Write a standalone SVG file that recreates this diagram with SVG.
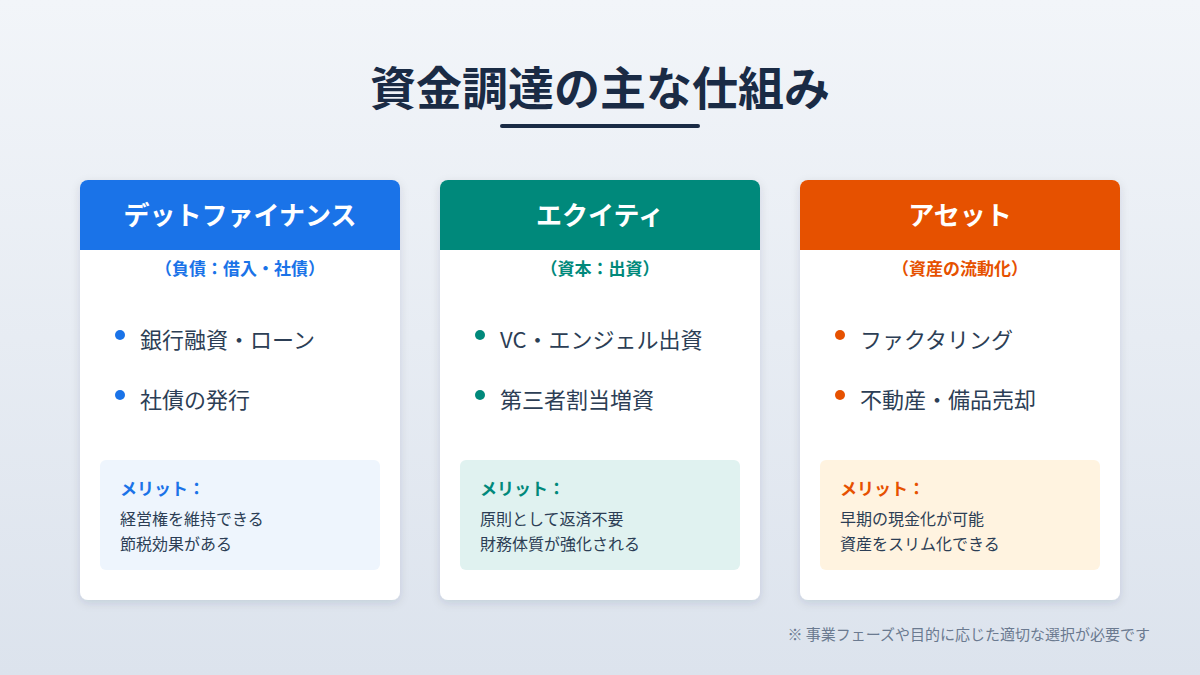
<svg xmlns="http://www.w3.org/2000/svg" width="1200" height="675" viewBox="0 0 1200 675">
<defs>
<linearGradient id="bg" x1="0" y1="0" x2="0" y2="1"><stop offset="0" stop-color="#f2f5f9"/><stop offset="1" stop-color="#dce3ed"/></linearGradient>
<filter id="sh" x="-10%" y="-10%" width="120%" height="120%"><feDropShadow dx="0" dy="3" stdDeviation="5" flood-color="#1a2b45" flood-opacity="0.12"/></filter>
<style>
text{font-family:"Noto Sans CJK JP","Noto Sans",sans-serif}
.hd{font-size:26px;font-weight:700;fill:#fff;text-anchor:middle}
.sub{font-size:17px;font-weight:700;text-anchor:middle}
.bl{font-size:22px;fill:#2c3e55}
.mt{font-size:17px;font-weight:700}
.ml{font-size:16px;fill:#2c3e55}
</style>
</defs>
<rect width="1200" height="675" fill="url(#bg)"/>
<text x="600" y="105" text-anchor="middle" style="font-size:46px;font-weight:700;fill:#1a2b45">資金調達の主な仕組み</text>
<rect x="500" y="124" width="200" height="4" rx="2" fill="#1a2b45"/>
<g id="debt">
<rect x="80" y="180" width="320" height="420" rx="8" fill="#fff" filter="url(#sh)"/>
<path d="M88 180H392A8 8 0 0 1 400 188V250H80V188A8 8 0 0 1 88 180Z" fill="#1a73e8"/>
<text x="240" y="225" class="hd">デットファイナンス</text>
<text x="240" y="275" class="sub" fill="#1a73e8">（負債：借入・社債）</text>
<circle cx="120" cy="335" r="5" fill="#1a73e8"/><text x="140" y="348" class="bl">銀行融資・ローン</text>
<circle cx="120" cy="395" r="5" fill="#1a73e8"/><text x="140" y="408" class="bl">社債の発行</text>
<rect x="100" y="460" width="280" height="110" rx="6" fill="#eef5fd"/>
<text x="120" y="495" class="mt" fill="#1a73e8">メリット：</text>
<text x="120" y="525" class="ml">経営権を維持できる</text>
<text x="120" y="550" class="ml">節税効果がある</text>
</g>
<g id="equity">
<rect x="440" y="180" width="320" height="420" rx="8" fill="#fff" filter="url(#sh)"/>
<path d="M448 180H752A8 8 0 0 1 760 188V250H440V188A8 8 0 0 1 448 180Z" fill="#00897b"/>
<text x="600" y="225" class="hd">エクイティ</text>
<text x="600" y="275" class="sub" fill="#00897b">（資本：出資）</text>
<circle cx="480" cy="335" r="5" fill="#00897b"/><text x="500" y="348" class="bl">VC・エンジェル出資</text>
<circle cx="480" cy="395" r="5" fill="#00897b"/><text x="500" y="408" class="bl">第三者割当増資</text>
<rect x="460" y="460" width="280" height="110" rx="6" fill="#e0f2f0"/>
<text x="480" y="495" class="mt" fill="#00897b">メリット：</text>
<text x="480" y="525" class="ml">原則として返済不要</text>
<text x="480" y="550" class="ml">財務体質が強化される</text>
</g>
<g id="asset">
<rect x="800" y="180" width="320" height="420" rx="8" fill="#fff" filter="url(#sh)"/>
<path d="M808 180H1112A8 8 0 0 1 1120 188V250H800V188A8 8 0 0 1 808 180Z" fill="#e65100"/>
<text x="960" y="225" class="hd">アセット</text>
<text x="960" y="275" class="sub" fill="#e65100">（資産の流動化）</text>
<circle cx="840" cy="335" r="5" fill="#e65100"/><text x="860" y="348" class="bl">ファクタリング</text>
<circle cx="840" cy="395" r="5" fill="#e65100"/><text x="860" y="408" class="bl">不動産・備品売却</text>
<rect x="820" y="460" width="280" height="110" rx="6" fill="#fff3e0"/>
<text x="840" y="495" class="mt" fill="#e65100">メリット：</text>
<text x="840" y="525" class="ml">早期の現金化が可能</text>
<text x="840" y="550" class="ml">資産をスリム化できる</text>
</g>
<g id="connectors"/>
<text x="1150" y="640" text-anchor="end" style="font-size:15px;fill:#6b7a90">※ 事業フェーズや目的に応じた適切な選択が必要です</text>
</svg>
